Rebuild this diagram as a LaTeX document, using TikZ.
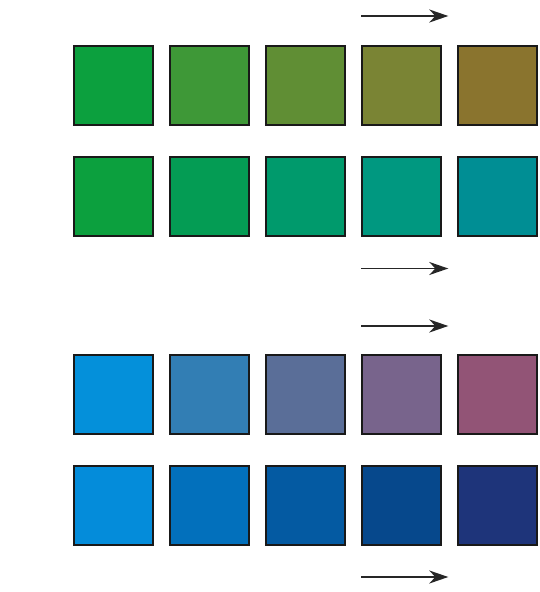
\documentclass[tikz,border=0pt]{standalone}
\usetikzlibrary{positioning,arrows.meta}
% green rows
\definecolor{ga1}{RGB}{12,160,62}
\definecolor{ga2}{RGB}{62,152,55}
\definecolor{ga3}{RGB}{96,142,52}
\definecolor{ga4}{RGB}{122,132,52}
\definecolor{ga5}{RGB}{138,116,46}
\definecolor{gb1}{RGB}{12,160,62}
\definecolor{gb2}{RGB}{4,156,84}
\definecolor{gb3}{RGB}{0,154,108}
\definecolor{gb4}{RGB}{0,152,128}
\definecolor{gb5}{RGB}{0,142,148}
% blue rows
\definecolor{ba1}{RGB}{4,144,218}
\definecolor{ba2}{RGB}{50,126,180}
\definecolor{ba3}{RGB}{90,110,152}
\definecolor{ba4}{RGB}{120,100,140}
\definecolor{ba5}{RGB}{146,84,118}
\definecolor{bb1}{RGB}{4,140,218}
\definecolor{bb2}{RGB}{2,112,188}
\definecolor{bb3}{RGB}{4,90,162}
\definecolor{bb4}{RGB}{6,72,140}
\definecolor{bb5}{RGB}{30,52,122}

\begin{document}
\begin{tikzpicture}[x=1pt,y=-1pt,
  tile/.style={draw=black!90,line width=2pt,minimum size=79pt,inner sep=0pt},
  flow/.style={line width=1.9pt,draw=black!85,-{Stealth[length=19pt,width=13pt,inset=6pt]}}]
	\useasboundingbox (0,0) rectangle (540,592);
	
	\foreach \c [count=\k] in {ga1,ga2,ga3,ga4,ga5}
	\node[tile,fill=\c] (a\k) at ({113.5+96.1*(\k-1)},85.5) {};
	\foreach \c [count=\k] in {gb1,gb2,gb3,gb4,gb5}
	\node[tile,fill=\c] (b\k) at ({113.5+96.1*(\k-1)},196) {};
	\foreach \c [count=\k] in {ba1,ba2,ba3,ba4,ba5}
	\node[tile,fill=\c] (c\k) at ({113.5+96.1*(\k-1)},394.5) {};
	\foreach \c [count=\k] in {bb1,bb2,bb3,bb4,bb5}
	\node[tile,fill=\c] (d\k) at ({113.5+96.1*(\k-1)},505.5) {};
	
	% arrows
	\coordinate[above=29pt of a4.north west] (sa);
	\coordinate[right=87pt of sa] (ta);
	\coordinate[below=32pt of b4.south west] (sb);
	\coordinate[right=87pt of sb] (tb);
	\coordinate[above=28pt of c4.north west] (sc);
	\coordinate[right=87pt of sc] (tc);
	\coordinate[below=31pt of d4.south west] (sd);
	\coordinate[right=87pt of sd] (td);
	\draw[flow] (sa) -- (ta);
	\draw[flow] (sb) -- (tb);
	\draw[flow] (sc) -- (tc);
	\draw[flow] (sd) -- (td);
\end{tikzpicture}
\end{document}
